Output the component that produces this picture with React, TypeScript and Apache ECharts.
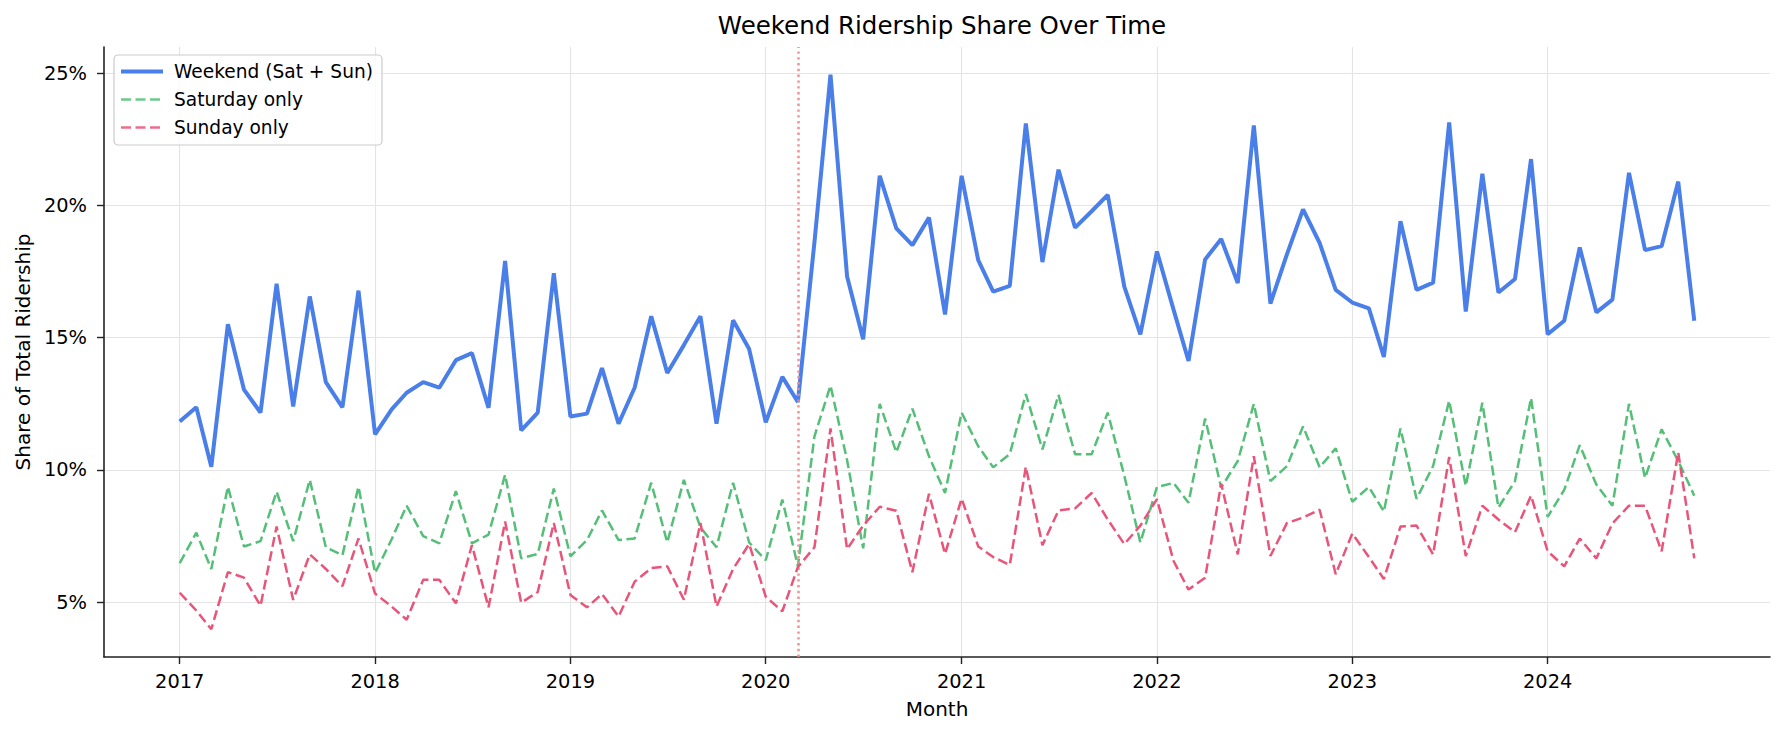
import React, { useEffect, useRef } from "react";
import * as echarts from "echarts";

// ---- Data (monthly shares, % of total ridership), Jan 2017 – Oct 2024 ----
const START_YEAR = 2017;
const START_MONTH = 0; // January

const weekendShare = [
  11.83, 12.37, 10.12, 15.51, 13.04, 12.17, 17.04, 12.4, 16.56, 13.32, 12.37, 16.78,
  11.35, 12.29, 12.92, 13.32, 13.11, 14.15, 14.42, 12.35, 17.9, 11.5, 12.17, 17.44,
  12.02, 12.13, 13.85, 11.75, 13.11, 15.81, 13.67, 14.72, 15.81, 11.75, 15.66, 14.57,
  11.8, 13.52, 12.57, 18.61, 24.94, 17.31, 14.94, 21.12, 19.13, 18.5, 19.54, 15.88,
  21.12, 17.93, 16.74, 16.96, 23.1, 17.86, 21.35, 19.16, 19.78, 20.4, 16.93, 15.13,
  18.26, 16.06, 14.12, 17.96, 18.73, 17.07, 23.02, 16.29, 18.16, 19.85, 18.58, 16.81,
  16.33, 16.11, 14.27, 19.4, 16.81, 17.08, 23.14, 15.99, 21.2, 16.71, 17.22, 21.75,
  15.13, 15.64, 18.41, 15.96, 16.44, 21.23, 18.31, 18.46, 20.9, 15.64,
];

const saturdayShare = [
  6.48, 7.63, 6.26, 9.37, 7.11, 7.31, 9.18, 7.31, 9.63, 7.08, 6.78, 9.37,
  6.11, 7.38, 8.65, 7.5, 7.23, 9.2, 7.23, 7.56, 9.82, 6.66, 6.83, 9.3,
  6.74, 7.35, 8.47, 7.35, 7.41, 9.52, 7.26, 9.63, 7.83, 7.08, 9.52, 7.26,
  6.59, 8.88, 6.36, 11.27, 13.19, 10.37, 7.04, 12.5, 10.67, 12.32, 10.52, 9.13,
  12.17, 10.9, 10.1, 10.6, 12.87, 10.78, 12.84, 10.6, 10.6, 12.17, 9.78, 7.26,
  9.36, 9.51, 8.76, 11.95, 9.33, 10.34, 12.5, 9.58, 10.15, 11.65, 10.1, 10.82,
  8.8, 9.36, 8.43, 11.57, 8.91, 10.15, 12.62, 9.4, 12.54, 8.58, 9.58, 12.72,
  8.23, 9.25, 10.94, 9.45, 8.65, 12.5, 9.7, 11.54, 10.34, 9.03,
];

const sundayShare = [
  5.36, 4.69, 3.98, 6.14, 5.93, 4.87, 7.86, 5.09, 6.81, 6.26, 5.61, 7.41,
  5.33, 4.84, 4.34, 5.85, 5.85, 4.96, 7.16, 4.81, 8.05, 4.98, 5.39, 8.0,
  5.28, 4.81, 5.31, 4.46, 5.78, 6.29, 6.36, 5.1, 8.0, 4.84, 6.26, 7.2,
  5.21, 4.66, 6.33, 7.08, 11.57, 7.01, 7.9, 8.61, 8.46, 6.14, 9.1, 6.83,
  8.92, 7.11, 6.71, 6.41, 10.12, 7.16, 8.47, 8.55, 9.13, 8.13, 7.2, 7.9,
  8.9, 6.56, 5.48, 5.93, 9.48, 6.81, 10.52, 6.75, 8.0, 8.2, 8.5, 6.06,
  7.6, 6.71, 5.88, 7.86, 7.9, 6.81, 10.49, 6.75, 8.65, 8.13, 7.65, 9.03,
  6.93, 6.36, 7.41, 6.66, 7.98, 8.65, 8.65, 6.93, 10.67, 6.66,
];

const yearTicks = [2017, 2018, 2019, 2020, 2021, 2022, 2023, 2024];
const percentTicks = [5, 10, 15, 20, 25];
const markerDate = { year: 2020, month: 2 }; // March 2020 (dotted marker)

const seriesNames = ["Weekend (Sat + Sun)", "Saturday only", "Sunday only"];
const seriesColors = ["#4a7ee9", "#55be78", "#e8557a"];
const DASH = [10, 4.5];

// month timestamps (x positions of the monthly observations)
const monthTimes = weekendShare.map((_, i) => Date.UTC(START_YEAR, START_MONTH + i, 1));

const FONT = "DejaVu Sans, sans-serif";

export default function App() {
  const ref = useRef<HTMLDivElement>(null);

  useEffect(() => {
    document.body.style.margin = "0";
    if (!ref.current) return;
    const chart = echarts.init(ref.current, null, { renderer: "svg" });

    const first = monthTimes[0];
    const last = monthTimes[monthTimes.length - 1];
    const xPad = (last - first) * 0.05;
    const all = [...weekendShare, ...saturdayShare, ...sundayShare];
    const yLo = Math.min(...all);
    const yHi = Math.max(...all);
    const yPad = (yHi - yLo) * 0.05;

    const yearTimes = yearTicks.map((y) => Date.UTC(y, 0, 1));
    const toPairs = (arr: number[]) => arr.map((v, i) => [monthTimes[i], v]);

    const axisColor = "#222222";
    const gridColor = "#e4e4e4";

    chart.setOption({
      animation: false,
      backgroundColor: "#ffffff",
      textStyle: { fontFamily: FONT },
      title: {
        text: "Weekend Ridership Share Over Time",
        left: 937,
        top: 8,
        textAlign: "center",
        textStyle: { fontFamily: FONT, fontSize: 24.5, fontWeight: "normal", color: "#000" },
      },
      legend: {
        orient: "vertical",
        left: 114,
        top: 55,
        padding: [7, 9, 8, 5],
        itemGap: 9,
        itemWidth: 42,
        itemHeight: 14,
        backgroundColor: "rgba(255,255,255,0.8)",
        borderColor: "#cccccc",
        borderWidth: 1.2,
        borderRadius: 4,
        itemStyle: { opacity: 0 },
        textStyle: { fontFamily: FONT, fontSize: 18.6, color: "#000", padding: [0, 0, 0, 6] },
        data: [
          { name: seriesNames[0], lineStyle: { color: seriesColors[0], width: 4, type: "solid" } },
          { name: seriesNames[1], lineStyle: { color: seriesColors[1], width: 2.6, type: DASH, opacity: 0.85 } },
          { name: seriesNames[2], lineStyle: { color: seriesColors[2], width: 2.6, type: DASH, opacity: 0.85 } },
        ],
      },
      grid: { left: 104, right: 15, top: 47, bottom: 78, containLabel: false },
      xAxis: {
        type: "value",
        min: first - xPad,
        max: last + xPad,
        name: "Month",
        nameLocation: "middle",
        nameGap: 42,
        nameTextStyle: { fontFamily: FONT, fontSize: 20, color: "#000" },
        axisLine: { show: true, onZero: false, lineStyle: { color: axisColor, width: 1.6 } },
        axisTick: {
          show: true,
          length: 7,
          lineStyle: { color: axisColor, width: 1.4 },
          customValues: yearTimes,
        },
        axisLabel: {
          customValues: yearTimes,
          margin: 15,
          fontFamily: FONT,
          fontSize: 19.4,
          color: "#000",
          formatter: (v: number) => String(new Date(v).getUTCFullYear()),
        },
        splitLine: { show: true, lineStyle: { color: gridColor, width: 1.1 } },
      },
      yAxis: {
        type: "value",
        min: yLo - yPad,
        max: yHi + yPad,
        name: "Share of Total Ridership",
        nameLocation: "middle",
        nameGap: 64,
        nameTextStyle: { fontFamily: FONT, fontSize: 20, color: "#000" },
        axisLine: { show: true, onZero: false, lineStyle: { color: axisColor, width: 1.6 } },
        axisTick: {
          show: true,
          length: 7,
          lineStyle: { color: axisColor, width: 1.4 },
          customValues: percentTicks,
        },
        axisLabel: {
          customValues: percentTicks,
          margin: 17,
          fontFamily: FONT,
          fontSize: 19.4,
          color: "#000",
          formatter: (v: number) => `${Math.round(v)}%`,
        },
        splitLine: { show: true, lineStyle: { color: gridColor, width: 1.1 } },
      },
      series: [
        {
          name: seriesNames[0],
          type: "line",
          data: toPairs(weekendShare),
          showSymbol: false,
          symbol: "none",
          color: seriesColors[0],
          lineStyle: { color: seriesColors[0], width: 4 },
          z: 3,
        },
        {
          name: seriesNames[1],
          type: "line",
          data: toPairs(saturdayShare),
          showSymbol: false,
          symbol: "none",
          color: seriesColors[1],
          lineStyle: { color: seriesColors[1], width: 2.5, type: DASH },
          z: 4,
        },
        {
          name: seriesNames[2],
          type: "line",
          data: toPairs(sundayShare),
          showSymbol: false,
          symbol: "none",
          color: seriesColors[2],
          lineStyle: { color: seriesColors[2], width: 2.5, type: DASH },
          z: 5,
          markLine: {
            silent: true,
            symbol: "none",
            label: { show: false },
            lineStyle: { color: "#f28b8b", width: 2.6, type: [2.4, 3.4], opacity: 0.9 },
            data: [{ xAxis: Date.UTC(markerDate.year, markerDate.month, 1) }],
          },
        },
      ],
    });

    return () => chart.dispose();
  }, []);

  return <div ref={ref} style={{ width: 1785, height: 735 }} />;
}
